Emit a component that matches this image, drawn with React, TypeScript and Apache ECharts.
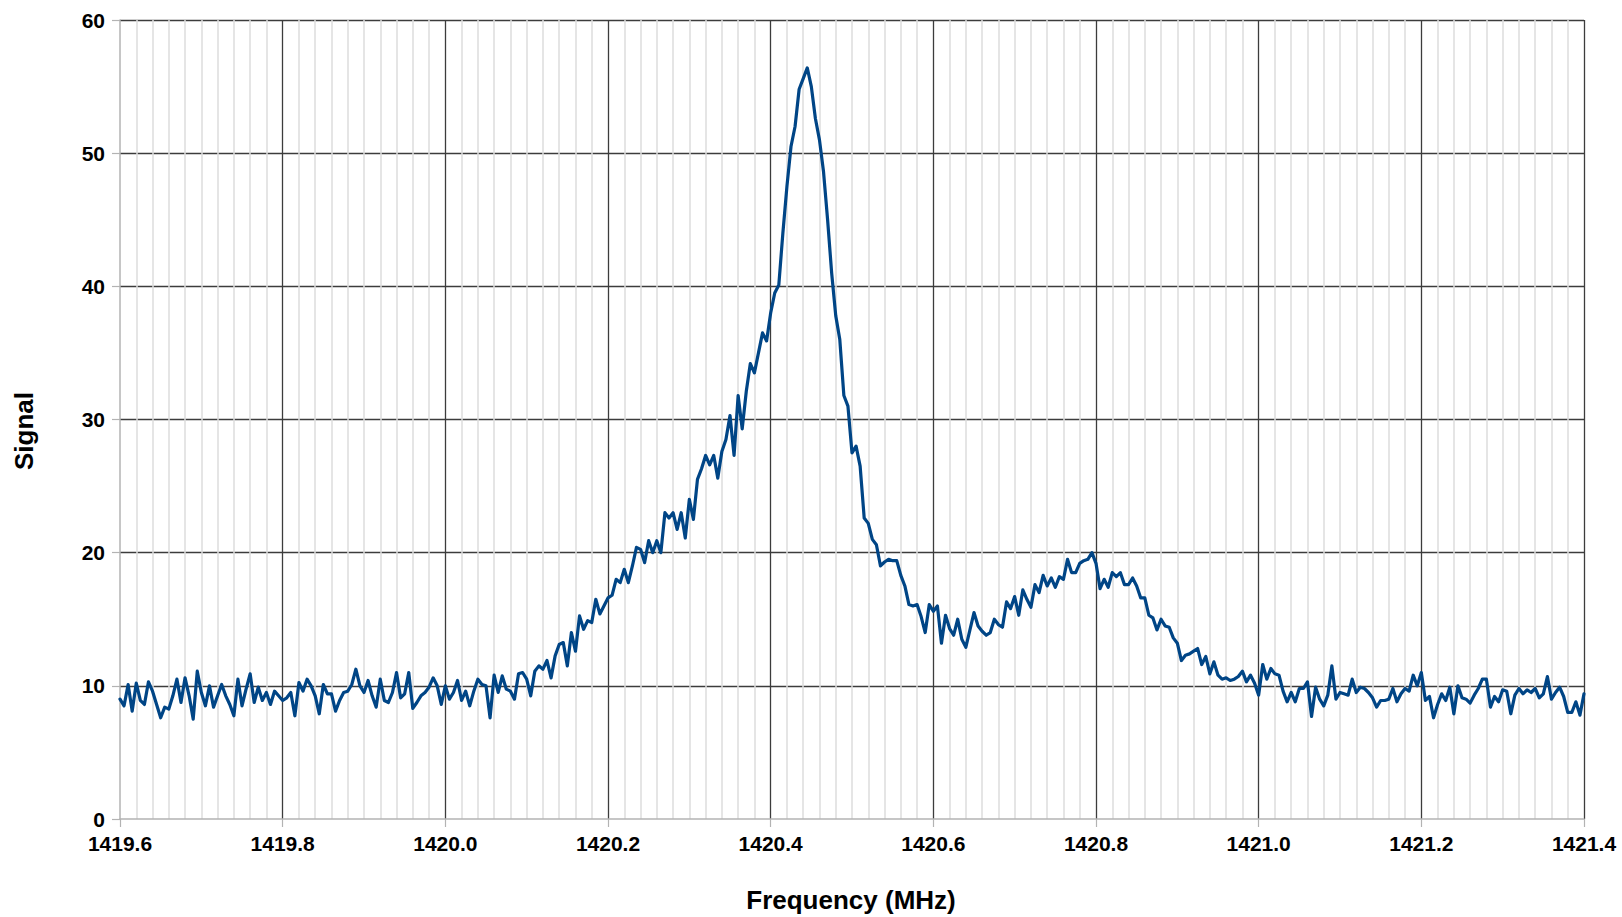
import React, { useEffect, useRef } from "react";
import * as echarts from "echarts";

// Frequency grid of the trace (MHz)
const FREQ_START = 1419.6;
const FREQ_STEP = 0.005;

// Signal readings, split by region (one value every 0.005 MHz)
const baselineLeft = [
  9.0, 8.5, 10.1, 8.1, 10.2, 8.9, 8.6, 10.3, 9.6, 8.6, 7.6, 8.4, 8.25, 9.25, 10.5, 8.75, 10.6, 9.25, 7.5, 11.1,
  9.5, 8.5, 10.0, 8.4, 9.25, 10.1, 9.25, 8.6, 7.75, 10.5, 8.5, 9.75, 10.9, 8.75, 9.9, 8.9, 9.5, 8.6, 9.6, 9.25,
  8.9, 9.1, 9.5, 7.75, 10.25, 9.6, 10.5, 10.0, 9.25, 7.9, 10.1, 9.4, 9.4, 8.1, 8.9, 9.5, 9.6, 10.1, 11.25, 10.0,
  9.5, 10.4, 9.25, 8.4, 10.5, 8.9, 8.75, 9.5, 11.0, 9.1, 9.4, 11.0, 8.3,
  8.75, 9.25, 9.5, 9.9, 10.6, 10.0, 8.6, 10.0, 9.0, 9.5, 10.4, 8.9, 9.6, 8.5, 9.6, 10.5, 10.1, 10.0, 7.6, 10.8,
  9.5, 10.75, 9.75, 9.6, 9.0, 10.9, 11.0, 10.5, 9.25,
];

const risingWing = [
  11.1, 11.5, 11.25, 11.9, 10.6, 12.25, 13.1, 13.25, 11.5, 14.0, 12.6, 15.25, 14.25, 14.9, 14.75, 16.5, 15.4, 16.0,
  16.6, 16.8, 18.0, 17.75, 18.75, 17.75, 19.0, 20.4, 20.25, 19.25, 20.9, 20.0, 20.9, 20.0, 23.0, 22.6, 23.0, 21.75,
  23.0, 21.1, 24.0, 22.5, 25.5, 26.3, 27.3, 26.6, 27.3, 25.6, 27.6, 28.5, 30.3, 27.3, 31.8, 29.3, 32.1, 34.2, 33.5,
  35.0, 36.5, 35.9, 38.0, 39.5, 40.1,
];

const mainPeak = [
  44.0, 47.5, 50.5, 52.0, 54.8, 55.6, 56.4, 55.0, 52.6, 51.0, 48.6, 45.0, 41.0, 37.8, 36.0, 31.8, 31.0, 27.5, 28.0,
  26.5, 22.6, 22.2, 21.0, 20.6, 19.0,
];

const secondPeak = [
  19.3, 19.5, 19.4, 19.4, 18.3, 17.5, 16.1, 16.0, 16.1, 15.2, 14.0, 16.1, 15.6, 16.0, 13.2, 15.3, 14.3, 13.8, 15.0,
  13.5, 12.9, 14.2, 15.5, 14.5, 14.1, 13.8, 14.0, 15.0, 14.6, 14.4, 16.3, 15.8, 16.7, 15.3, 17.2, 16.5, 15.9, 17.6,
  17.0, 18.3, 17.5, 18.1, 17.4, 18.2, 18.0, 19.5, 18.5, 18.5, 19.2, 19.4, 19.5, 20.0, 19.2, 17.3, 18.0, 17.4, 18.5,
  18.2, 18.5, 17.6, 17.6, 18.1, 17.5, 16.6, 16.6, 15.3, 15.1, 14.2, 15.0, 14.5, 14.4, 13.6, 13.2, 11.9, 12.3, 12.4,
  12.6, 12.8, 11.6, 12.2, 10.9, 11.8, 10.8, 10.5, 10.6, 10.4, 10.5, 10.7, 11.1, 10.3, 10.8, 10.2,
];

const baselineRight = [
  9.3, 11.6, 10.5, 11.3, 10.9, 10.8, 9.6, 8.8, 9.5, 8.8, 9.8, 9.8, 10.3, 7.7, 9.9, 9.0, 8.5, 9.3, 11.5, 9.0,
  9.5, 9.4, 9.3, 10.5, 9.5, 9.9, 9.8, 9.5, 9.1, 8.4, 8.9, 8.9, 9.0, 9.8, 8.8, 9.4, 9.8, 9.6, 10.8, 10.0,
  11.0, 8.9, 9.2, 7.6, 8.6, 9.4, 8.9, 9.9, 7.9, 10.0, 9.1, 9.0, 8.7, 9.3, 9.8, 10.5, 10.5, 8.4, 9.2, 8.8,
  9.7, 9.6, 7.9, 9.3, 9.8, 9.4, 9.7, 9.5, 9.8, 9.1, 9.4, 10.7, 9.0, 9.5, 9.9, 9.2, 8.0, 8.0, 8.8, 7.8, 9.4,
];

const xTicks = { min: 1419.6, max: 1421.4, interval: 0.2 };
const yTicks = { min: 0, max: 60, interval: 10 };

const signal = [...baselineLeft, ...risingWing, ...mainPeak, ...secondPeak, ...baselineRight];
const points = signal.map((v, i) => [+(FREQ_START + i * FREQ_STEP).toFixed(3), v]);

const FONT = "'Liberation Sans', Arial, sans-serif";

export default function App() {
  const ref = useRef<HTMLDivElement>(null);
  useEffect(() => {
    if (!ref.current) return;
    const chart = echarts.init(ref.current, null, { renderer: "svg" });
    chart.setOption({
      animation: false,
      backgroundColor: "#ffffff",
      grid: { left: 120, right: 38, top: 20, bottom: 98, containLabel: false },
      xAxis: {
        type: "value",
        min: xTicks.min,
        max: xTicks.max,
        interval: xTicks.interval,
        axisLine: { show: true, onZero: false, lineStyle: { color: "#b3b3b3", width: 1.5 } },
        axisTick: { show: true, length: 8, lineStyle: { color: "#b3b3b3", width: 1.2 } },
        axisLabel: {
          formatter: (v: number) => v.toFixed(1),
          fontSize: 21,
          fontWeight: "bold",
          fontFamily: FONT,
          color: "#000",
          margin: 14,
          showMinLabel: true,
          showMaxLabel: true,
        },
        splitLine: { show: true, showMinLine: false, lineStyle: { color: "#3c3c3c", width: 1.3 } },
        minorTick: { show: false, splitNumber: 10 },
        minorSplitLine: { show: true, lineStyle: { color: "#dcdcdc", width: 1.5 } },
      },
      yAxis: {
        type: "value",
        min: yTicks.min,
        max: yTicks.max,
        interval: yTicks.interval,
        axisLine: { show: true, lineStyle: { color: "#b3b3b3", width: 1.5 } },
        axisTick: { show: true, length: 8, lineStyle: { color: "#b3b3b3", width: 1.2 } },
        axisLabel: {
          fontSize: 21,
          fontWeight: "bold",
          fontFamily: FONT,
          color: "#000",
          margin: 15,
        },
        splitLine: { show: true, showMinLine: false, lineStyle: { color: "#3c3c3c", width: 1.3 } },
      },
      graphic: [
        {
          type: "text",
          x: 851,
          y: 900,
          style: {
            text: "Frequency (MHz)",
            font: `bold 26px ${FONT}`,
            fill: "#000",
            textAlign: "center",
            textVerticalAlign: "middle",
          },
        },
        {
          type: "text",
          x: 24,
          y: 431,
          rotation: Math.PI / 2,
          style: {
            text: "Signal",
            font: `bold 26px ${FONT}`,
            fill: "#000",
            textAlign: "center",
            textVerticalAlign: "middle",
          },
        },
      ],
      series: [
        {
          type: "line",
          data: points,
          showSymbol: false,
          symbol: "none",
          lineStyle: { color: "#004586", width: 3.2, join: "round", cap: "round" },
          z: 5,
        },
      ],
    });
    return () => chart.dispose();
  }, []);
  return (
    <div
      ref={ref}
      style={{ position: "fixed", left: 0, top: 0, width: 1622, height: 917, background: "#fff" }}
    />
  );
}
